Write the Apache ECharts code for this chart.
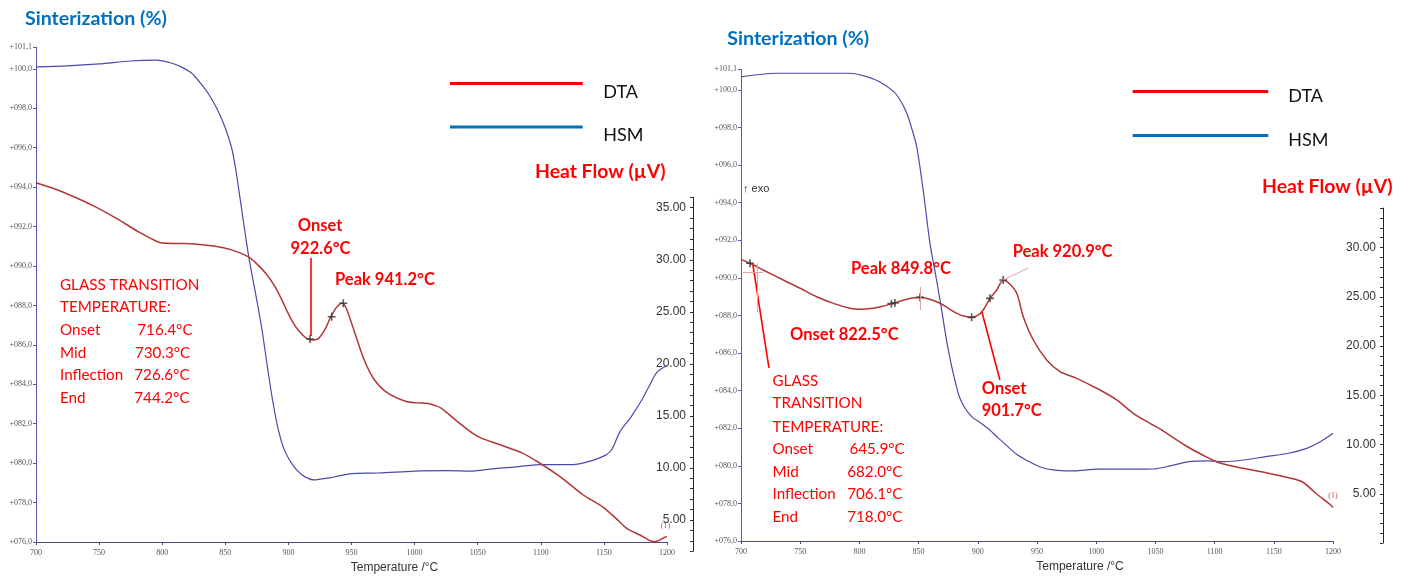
<!DOCTYPE html>
<html><head><meta charset="utf-8">
<script src="https://cdn.jsdelivr.net/npm/echarts@6/dist/echarts.min.js"></script>
<style>html,body{margin:0;padding:0;background:#fff}#c{width:1410px;height:579px}</style>
</head><body><div id="c"></div>
<script>
// ---------- DATA ----------
// Left panel: HSM sinterization (%) vs temperature (°C)
const leftHsmT = [700,725,750,775,795,807,815,823,830,837,844,850,855,858,862,868.5,874,879,884,888,892,896,900.5,906,911,915,920,926,932.5,940,950,971.5,1000,1025,1046,1060,1078,1099.4,1125.8,1139,1147,1152.2,1156.2,1162.8,1171,1180,1185,1192,1200];
const leftHsmV = [100.1,100.15,100.25,100.4,100.44,100.3,100.1,99.8,99.3,98.7,97.9,97.0,96.0,95.0,93.3,90.5,88.6,86.8,84.6,83.0,81.7,80.8,80.2,79.7,79.4,79.25,79.15,79.2,79.25,79.35,79.47,79.5,79.6,79.62,79.6,79.7,79.8,79.93,79.93,80.1,80.28,80.44,80.69,81.6,82.3,83.2,83.8,84.6,84.95];
// Left panel: DTA heat flow (µV)
const leftDtaT = [700,715,730,746,762,781,795,800,818,842,855,868,875,882,889,895,900,905.6,911,916,920,924,929,933.5,938,942.7,946,952,960,968,978.6,992.8,1002,1010.5,1016,1021,1035,1049.6,1067,1085,1099.4,1115.2,1133.7,1149.5,1160,1168.1,1178.6,1189.1,1193.1,1198.4,1200];
const leftDtaV = [37.4,36.8,36.05,35.15,34.1,32.7,31.8,31.6,31.55,31.3,30.95,30.3,29.6,28.7,27.5,26.1,24.8,23.6,22.8,22.35,22.3,22.45,23.3,24.5,25.4,25.85,25.3,23.2,20.4,18.5,17.2,16.4,16.25,16.2,16.0,15.75,14.35,13.05,12.25,11.45,10.45,9.16,7.4,6.22,5.1,4.2,3.56,2.92,3.01,3.34,3.4];
const leftMarkT = [732.2,917.1,934.3,943.5];
const leftMarkV = [36.06,22.39,24.53,25.82];

// Right panel: HSM
const rightHsmT = [700,730,778,792,806,817,829,835,840,844,848.4,854,859.6,864,868.1,875.1,883.5,888,894.8,902,910.1,917,925.4,933,940.7,952.2,963.7,979,1002,1028.7,1047.8,1059.3,1078.4,1093.7,1108.9,1124.3,1143.4,1162.5,1177.8,1189.3,1200];
const rightHsmV = [100.7,100.89,100.89,100.89,100.71,100.44,99.91,99.4,98.76,98.0,96.98,94.6,91.84,90.3,88.82,86.16,83.86,83.2,82.62,82.3,81.91,81.5,81.02,80.6,80.31,79.95,79.78,79.73,79.82,79.82,79.83,79.95,80.22,80.26,80.22,80.31,80.49,80.67,80.93,81.28,81.73];
// Right panel: DTA
const rightDtaT = [700,707.6,720,735.7,750,763.9,778,792.1,800,811.7,820,828.6,840,851.2,860,868.1,875,882.2,888,894.8,900,904.6,910.3,916,921.5,927,932.9,938.4,946.9,958.2,969.4,983.5,1003.2,1017.3,1031.3,1045.4,1055.5,1074.6,1089.9,1105.2,1124.3,1143.4,1162.5,1174,1185.5,1198.9,1200];
const rightDtaV = [28.8,28.4,27.64,26.7,25.86,25.0,24.33,23.83,23.72,23.83,24.05,24.34,24.74,24.94,24.72,24.34,23.83,23.32,23.05,22.91,23.1,23.65,24.84,25.69,26.68,26.3,25.35,22.97,20.61,18.58,17.39,16.72,15.53,14.52,13.17,12.15,11.47,9.95,8.93,8.09,7.58,7.14,6.63,6.22,5.05,3.76,3.6];
const rightMarkT = [707.6,827,830,851.2,894.8,910.3,921.5];
const rightMarkV = [28.4,24.3,24.37,24.94,22.91,24.84,26.7];

// Annotation pointer lines (data coords: [T, heat flow])
const leftPointers = [[[917.9,30.17],[917.9,22.68]]];
const leftTangents = [[[732.2,36.06],[771.9,29.98]]];
const rightPointers = [[[710.1,28.22],[723.6,17.77]],[[903.5,23.45],[918.7,16.55]]];
const rightTangents = [[[701.7,27.51],[718.6,27.51]],[[713.5,28.4],[713.5,23.45]],[[851.2,25.99],[851.2,23.65]],[[921.3,26.7],[942.4,27.9]]];

const seriesNames = ['DTA','HSM'];
// ---------------------------------------------------

const zip = (a,b) => a.map((x,i)=>[x,b[i]]);
const pct = v => { const f = Math.floor(v+1e-9); return '+' + String(f).padStart(3,'0') + ',' + Math.round((v-f)*10); };
const hfFmt = v => (Math.abs(v % 5) < 1e-6 && v > 0) ? v.toFixed(2) : '';
const plus = 'path://M4,0h2v4h4v2h-4v4h-2v-4h-4v-2h4z';

function xAx(grid, show, gap){
  return {type:'value', gridIndex:grid, min:700, max:1200, interval:50, show:show,
    axisLine:{show:true, lineStyle:{color:'#4d4d80', width:1}},
    axisTick:{show:true, length:3, lineStyle:{color:'#4d4d80'}},
    axisLabel:{formatter:v => String(v), fontFamily:'Liberation Serif', fontSize:8, color:'#555', margin:7},
    splitLine:{show:false},
    name: show ? 'Temperature /°C' : '', nameLocation:'middle', nameGap:gap,
    nameTextStyle:{fontFamily:'Liberation Sans', fontSize:12, color:'#333', padding:[0,0,0,86]}};
}
function yPct(grid){
  return {type:'value', gridIndex:grid, min:76, max:101.1, interval:2, position:'left',
    axisLine:{show:true, lineStyle:{color:'#5a5ab8', width:1}},
    axisTick:{show:true, length:3, lineStyle:{color:'#5a5ab8'}},
    axisLabel:{formatter:pct, fontFamily:'Liberation Serif', fontSize:8, color:'#555', margin:4},
    splitLine:{show:false}};
}
function yHf(grid, min, max, off){
  return {type:'value', gridIndex:grid, min:min, max:max, interval:1, position:'right', offset:off,
    axisLine:{show:true, lineStyle:{color:'#222', width:1}},
    axisTick:{show:true, inside:true, length:3, lineStyle:{color:'#333'}},
    axisLabel:{inside:true, formatter:hfFmt, fontFamily:'Liberation Sans', fontSize:12, color:'#333', margin:7},
    splitLine:{show:false}};
}
function mlines(pointers, tangents){
  const d = [];
  pointers.forEach(p => d.push([{coord:p[0], lineStyle:{color:'#ff0000', width:1.6, type:'solid'}},{coord:p[1]}]));
  tangents.forEach(p => d.push([{coord:p[0], lineStyle:{color:'#e8a0a0', width:1, type:'solid'}},{coord:p[1]}]));
  return {silent:true, symbol:['none','none'], label:{show:false}, animation:false, data:d};
}
const hsmStyle = {color:'#4a4aaa', width:1.2};
const dtaStyle = {color:'#b23636', width:1.5};

function legend(left, top, w, gap, spacer, padLeft){
  return {left:left, top:top, orient:'vertical', padding:0, itemWidth:w, itemHeight:3, itemGap:gap,
    icon:'rect', selectedMode:false,
    formatter: n => '{s| }\n{t|' + n + '}',
    textStyle:{padding:[0,0,0,padLeft],
      rich:{s:{fontSize:1, lineHeight:spacer}, t:{fontFamily:'Lato', fontSize:18, lineHeight:18, color:'#111'}}},
    data:[{name:seriesNames[0], itemStyle:{color:'#ff0000', borderWidth:0}},
          {name:seriesNames[1], itemStyle:{color:'#0070c0', borderWidth:0}}]};
}

function txt(x, y, s, opts){
  opts = opts || {};
  return {type:'text', silent:true, style:{x:x, y:y, text:s,
    fill: opts.fill || '#ff0000',
    fontFamily: opts.family || 'Lato', fontSize: opts.size || 16,
    fontWeight: opts.weight || 'normal',
    textAlign: opts.align || 'left', align: opts.align || 'left',
    textVerticalAlign:'middle', verticalAlign:'middle'}};
}
const B = {weight:'bold', size:16.5};
const R = {size:15.2};
const T = {weight:'bold', size:19.6, fill:'#0070c0'};
const H = {weight:'bold', size:19.4, fill:'#ff0000'};

const graphics = [
  txt(25, 18.3, 'Sinterization (%)', T),
  txt(727.3, 38.3, 'Sinterization (%)', T),
  txt(535, 171.7, 'Heat Flow (µV)', H),
  txt(1262, 186.7, 'Heat Flow (µV)', H),
  txt(743, 189.3, '↑ exo', {fill:'#333', family:'Liberation Sans', size:11}),
  // left panel annotations
  txt(320, 226, 'Onset', Object.assign({align:'center'}, B)),
  txt(320.5, 248.3, '922.6°C', Object.assign({align:'center'}, B)),
  txt(335, 280, 'Peak 941.2°C', B),
  txt(60, 285, 'GLASS TRANSITION', R),
  txt(60, 307.3, 'TEMPERATURE:', R),
  txt(60, 330, 'Onset', R), txt(137.3, 330, '716.4°C', R),
  txt(60, 352.7, 'Mid', R), txt(135, 352.7, '730.3°C', R),
  txt(60, 375.3, 'Inflection', R), txt(134.3, 375.3, '726.6°C', R),
  txt(60, 398.3, 'End', R), txt(134.3, 398.3, '744.2°C', R),
  txt(665.5, 526, '(1)', {fill:'#d05050', family:'Liberation Serif', size:8, align:'center'}),
  // right panel annotations
  txt(851, 268.3, 'Peak 849.8°C', B),
  txt(790, 334.3, 'Onset 822.5°C', B),
  txt(1012.7, 251.7, 'Peak 920.9°C', B),
  txt(981.7, 388.3, 'Onset', B),
  txt(981.7, 410.7, '901.7°C', B),
  txt(772.5, 381, 'GLASS', R),
  txt(772.5, 403.3, 'TRANSITION', R),
  txt(772.5, 426.7, 'TEMPERATURE:', R),
  txt(772.5, 449.3, 'Onset', R), txt(849.4, 449.3, '645.9°C', R),
  txt(772.5, 471.7, 'Mid', R), txt(847.2, 471.7, '682.0°C', R),
  txt(772.5, 494.3, 'Inflection', R), txt(847.2, 494.3, '706.1°C', R),
  txt(772.5, 516.7, 'End', R), txt(847.2, 516.7, '718.0°C', R),
  txt(1333, 496, '(1)', {fill:'#d05050', family:'Liberation Serif', size:8, align:'center'})
];

const option = {
  animation:false,
  backgroundColor:'#ffffff',
  grid:[
    {left:36, right:743, top:47.2, bottom:34.3},
    {left:36, right:743, top:197.3, bottom:27.8},
    {left:741, right:77, top:69.3, bottom:38},
    {left:741, right:77, top:208.1, bottom:36}
  ],
  xAxis:[xAx(0,true,20), xAx(1,false,0), xAx(2,true,18), xAx(3,false,0)],
  yAxis:[yPct(0), yHf(1,2,36,26), yPct(2), yHf(3,0,34,50)],
  legend:[legend(450,74.1,132.7,16.4,17,15.6), legend(1132.7,82,135.6,20.4,10,15)],
  series:[
    {name:seriesNames[1], type:'line', xAxisIndex:0, yAxisIndex:0, data:zip(leftHsmT,leftHsmV),
      showSymbol:false, symbol:'none', smooth:0.3, lineStyle:hsmStyle, itemStyle:{color:hsmStyle.color}, z:2},
    {name:seriesNames[0], type:'line', xAxisIndex:1, yAxisIndex:1, data:zip(leftDtaT,leftDtaV), clip:false,
      showSymbol:false, symbol:'none', smooth:0.3, lineStyle:dtaStyle, itemStyle:{color:dtaStyle.color}, z:3,
      markLine:mlines(leftPointers,leftTangents)},
    {name:'markers', type:'scatter', xAxisIndex:1, yAxisIndex:1, data:zip(leftMarkT,leftMarkV),
      symbol:plus, symbolSize:8, itemStyle:{color:'#333'}, silent:true, z:4},
    {name:seriesNames[1], type:'line', xAxisIndex:2, yAxisIndex:2, data:zip(rightHsmT,rightHsmV),
      showSymbol:false, symbol:'none', smooth:0.3, lineStyle:hsmStyle, itemStyle:{color:hsmStyle.color}, z:2},
    {name:seriesNames[0], type:'line', xAxisIndex:3, yAxisIndex:3, data:zip(rightDtaT,rightDtaV), clip:false,
      showSymbol:false, symbol:'none', smooth:0.3, lineStyle:dtaStyle, itemStyle:{color:dtaStyle.color}, z:3,
      markLine:mlines(rightPointers,rightTangents)},
    {name:'markers', type:'scatter', xAxisIndex:3, yAxisIndex:3, data:zip(rightMarkT,rightMarkV),
      symbol:plus, symbolSize:8, itemStyle:{color:'#333'}, silent:true, z:4}
  ],
  graphic:graphics
};
const chart = echarts.init(document.getElementById('c'), null, {renderer:'canvas'});
chart.setOption(option);
</script></body></html>
